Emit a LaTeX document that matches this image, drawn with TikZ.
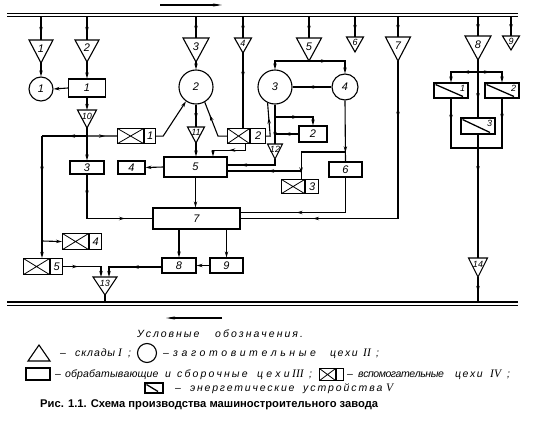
\documentclass[tikz,border=0pt]{standalone}
\usepackage{fontspec}
\setmainfont{Liberation Sans}
\newfontfamily\numfam{Liberation Sans}
\newfontfamily\gostfam{Liberation Sans}
\newfontfamily\romfam{Liberation Serif}
\newfontfamily\capfam{Liberation Sans}
\usetikzlibrary{arrows.meta,decorations.markings,calc}

\newcommand\numf{\numfam\itshape\fontsize{11}{11}\selectfont}
\newcommand\smallnumf{\numfam\itshape\fontsize{9}{9}\selectfont}
\newcommand\lgf{\gostfam\itshape\fontsize{10.5}{10.5}\selectfont}
\newcommand\romf{\romfam\itshape\fontsize{11.5}{11.5}\selectfont}

% spread a word evenly to a given width
\newdimen\fitsp \newcount\fitn \newbox\fitbox
\makeatletter
\newcommand\fitword[2]{%
  \setbox\fitbox\hbox{#2}%
  \fitn=0 \@tfor\fit@c:=#2\do{\advance\fitn by 1 }%
  \fitsp=#1\relax \advance\fitsp by -\wd\fitbox
  \ifnum\fitn>1 \divide\fitsp by \numexpr\fitn-1\relax\fi
  \let\fit@first\relax
  \@tfor\fit@c:=#2\do{\ifx\fit@first\relax\let\fit@first\@empty\else\kern\fitsp\fi\fit@c}%
}
\makeatother

\tikzset{
  ln/.style={line width=1.1pt},
  arr/.style={-{Stealth[length=6pt,width=3.4pt]}},
  ma/.style={postaction={decorate,decoration={markings,mark=at position #1 with {\arrow{Stealth[length=6pt,width=3.4pt]}}}}},
  box/.style={draw,line width=1.1pt,inner sep=0pt,font=\numf},
  circ/.style={draw,circle,line width=1.1pt,inner sep=0pt,font=\numf},
  xcross/.style={draw,line width=1.1pt,inner sep=0pt,path picture={\draw[line width=0.8pt] (path picture bounding box.north west)--(path picture bounding box.south east) (path picture bounding box.south west)--(path picture bounding box.north east);}},
  ebox/.style={draw,line width=1.1pt,inner sep=0pt,path picture={\draw[line width=1.3pt] ($(path picture bounding box.north west)+(1.5,1.5)$) -- ($(path picture bounding box.south east)+(-5,-1.5)$);}},
  lgt/.style={anchor=base west,inner sep=0pt,font=\lgf},
  lgr/.style={anchor=base west,inner sep=0pt,font=\romf},
}

\newcommand\tri[7]{%
  \draw[ln] (#2-#4/2,#3) -- (#2+#4/2,#3) -- (#2,#3+#5) -- cycle;
  \coordinate (#1) at (#2,#3);
  \coordinate (#1tip) at (#2,#3+#5);
  \node[inner sep=0pt,font=#7] (#1lab) at (#2,#3+#5*0.36) {#6};
}
\newcommand\xxbox[7]{%
  \node[xcross,minimum width=#4pt,minimum height=#6pt,anchor=north west] (#1) at (#2,#3) {};
  \node[box,minimum width=#5pt,minimum height=#6pt,anchor=west] (#1n) at (#1.east) {#7};
}
% legend word: name, start x, end x, baseline, word
\newcommand\lw[5]{\node[lgt] (#1) at (#2,#4) {\fitword{\dimexpr#3pt-#2pt\relax}{#5}};}

\begin{document}
\begin{tikzpicture}[x=1pt,y=-1pt]
\useasboundingbox (0,0) rectangle (536,436);

% buses
\coordinate (busT) at (7,16.8);
\coordinate (busB) at (7,302);
\draw[line width=1.4pt] (7,13.5) -- (518,13.5) (busT) -- (518,16.8);
\draw[line width=1.4pt] (busB) -- (518,302) (7,305.3) -- (518,305.3);
\coordinate (ta) at (160,5); \coordinate (tb) at (222,5);
\draw[ln,-{Stealth[length=9pt,width=3pt]}] (ta) -- (tb);
\coordinate (ba) at (222,318); \coordinate (bb) at (166,318);
\draw[ln,-{Stealth[length=9pt,width=3pt]}] (ba) -- (bb);

% triangles (warehouses)
\tri{T1}{41}{40}{24}{23}{1}{\numf}
\tri{T2}{87}{40}{24}{22}{2}{\numf}
\tri{T3}{196}{38}{26}{24}{3}{\numf}
\tri{T4}{243}{38}{17}{15}{4}{\smallnumf}
\tri{T5}{309}{38}{25}{23}{5}{\numf}
\tri{T6}{355}{37}{17}{15}{6}{\smallnumf}
\tri{T7}{398}{37}{25}{24}{7}{\numf}
\tri{T8}{478}{36}{26}{24}{8}{\numf}
\tri{T9}{511}{36}{17}{14}{9}{\smallnumf}
\tri{T10}{87}{110}{19}{18}{10}{\smallnumf}
\tri{T11}{196}{127}{17}{16}{11}{\smallnumf}
\tri{T12}{275}{144}{15}{15}{12}{\smallnumf}
\tri{T13}{105}{277}{24}{18}{13}{\smallnumf}
\tri{T14}{478}{258}{19}{19}{14}{\smallnumf}

% circles
\node[circ,minimum size=24pt] (C1) at (41,89) {1};
\node[circ,minimum size=34pt] (C2) at (196,87) {2};
\node[circ,minimum size=34pt] (C3) at (275,87) {3};
\node[circ,minimum size=26pt] (C4) at (345,87) {4};

% boxes
\node[box,minimum width=37pt,minimum height=18pt] (B1) at (87,88) {1};
\node[box,minimum width=34pt,minimum height=13pt] (B3) at (87,167.5) {3};
\node[box,minimum width=27pt,minimum height=13pt] (B4) at (131.5,167.5) {4};
\node[box,minimum width=63pt,minimum height=20pt] (B5) at (195.5,167) {5};
\node[box,minimum width=28pt,minimum height=16pt] (B2) at (313,134) {2};
\node[box,minimum width=33pt,minimum height=15pt] (B6) at (345.5,169.5) {6};
\node[box,minimum width=87pt,minimum height=21pt] (B7) at (196.5,218.5) {7};
\node[box,minimum width=34pt,minimum height=15pt] (B8) at (179,265.5) {8};
\node[box,minimum width=33pt,minimum height=15pt] (B9) at (226.5,265.5) {9};

% auxiliary shops
\xxbox{X1}{117}{128}{26}{11}{15}{1}
\xxbox{X2}{227}{128}{22}{15}{15}{2}
\xxbox{X3}{281}{179}{23}{13}{14}{3}
\xxbox{X4}{62}{233}{26}{12}{16}{4}
\xxbox{X5}{23}{258}{26}{12}{16}{5}

% energy units
\node[ebox,minimum width=34pt,minimum height=15pt] (E1) at (451,90.5) {};
\node[ebox,minimum width=34pt,minimum height=15pt] (E2) at (502,90.5) {};
\node[ebox,minimum width=34pt,minimum height=16pt] (E3) at (478,126) {};
\node[inner sep=0pt,font=\smallnumf] (E1lab) at ($(E1.north east)+(-6,6)$) {1};
\node[inner sep=0pt,font=\smallnumf] (E2lab) at ($(E2.north east)+(-6,6)$) {2};
\node[inner sep=0pt,font=\smallnumf] (E3lab) at ($(E3.north east)+(-6,6)$) {3};

% feeds from the top bus
\foreach \t in {T1,T2,T3,T4,T5,T6,T7,T8,T9}
  \draw[ln,ma=0.7] (\t |- busT) -- (\t);

% connections
\draw[ln,arr] (T1tip) -- (C1.north);
\draw[ln,arr] (T2tip) -- (B1.north);
\draw[ln,arr] (B1.west) -- (C1.east);
\draw[ln,arr] (B1.south) -- (T10);
\coordinate (j10) at (87,136);
\coordinate (jl) at (42,136);
\coordinate (jl4) at (42,241);
\draw[ln] (T10tip) -- (j10);
\draw[ln,ma=0.4] (j10) -- (jl);
\draw[ln,ma=0.3,arr] (jl) -- (jl |- X5.north);
\draw[ln,arr] (jl4) -- (X4.west);
\draw[ln,ma=0.6] (j10) -- (X1.west);
\draw[ln,arr] (j10) -- (B3.north);
\draw[ln,arr] (X1n.east) -- ++(7,0) -- (C2.235);
\draw[ln,arr] (T3tip) -- (C2.north);
\draw[ln,ma=0.65] (C2.south) -- (T11);
\draw[ln,arr] (T11tip) -- (T11tip |- B5.north);
\draw[ln,ma=0.7] (X2.west) -- ++(-9,0) -- (C2.300);
\draw[ln,ma=0.33] (T4tip) -- (T4tip |- X2.north);
\coordinate (x2s) at ($(X2.south east)+(-5,0)$);
\draw[ln,ma=0.49,arr] (x2s) -- ++(0,6) -| ($(B5.north)+(17.5,0)$);
\draw[ln,arr] (B5.west) -- (B4.east);
\draw[ln,ma=0.6] (X2n.east) -- ++(4,0) -- (C3.245);
\coordinate (j3) at (275,117);
\draw[ln,ma=0.85] (C3.south) -- (T12);
\draw[ln,ma=0.5,arr] (j3) -| (B2.north);
\draw[ln,ma=0.6] (B2.west) -- (B2.west -| j3);
\draw[ln,ma=0.75] (T12tip) |- ($(B5.east)+(0,-2)$);
\draw[ln,arr] (T5tip) -| (C3.north);
\draw[ln,ma=0.37,arr] (T5tip) -| (C4.north);
\draw[ln,ma=0.6] (C4.west) -- (C3.east);
\draw[ln,ma=0.85] (C4.south) -- (B6.north);
\coordinate (j4) at (345,152);
\coordinate (x3in) at ($(X3.north east)+(-4,0)$);
\draw[ln,ma=0.92] (j4) -| (x3in);
\coordinate (j5) at (x3in |- 0,171);
\draw[ln,ma=0.45] (j5) -- (j5 -| B5.east);
\draw[ln,ma=0.6] (B6.south) |- ($(B7.east)+(0,-6)$);
\draw[ln,ma=0.18,ma=0.77] (T7tip) |- (B7.east);
\draw[ln,arr] (B5.south) -- (B5.south |- B7.north);
\draw[ln,ma=0.2,ma=0.75] (B3.south) |- (B7.west);
\draw[ln,arr] (B8.north |- B7.south) -- (B8.north);
\draw[ln,arr] (B9.north |- B7.south) -- (B9.north);
\draw[ln,arr] (B9.west) -- (B8.east);
\draw[ln,ma=0.46,arr] ($(B8.west)+(0,1.5)$) -| ($(T13)+(4,0)$);
\draw[ln,ma=0.31,arr] (X5n.east) -| ($(T13)+(-4,0)$);
\draw[ln] (T13tip) -- (T13tip |- busB);

\coordinate (j8) at (478,72);
\coordinate (jb) at (478,148);
\draw[ln] (T8tip) -- (j8);
\draw[ln,ma=0.4,arr] (j8) -| (E1.north);
\draw[ln,ma=0.35,arr] (j8) -| (E2.north);
\draw[ln,ma=0.6] (j8) -- (E3.north);
\draw[ln,ma=0.29] (E1.south) |- (jb);
\draw[ln,ma=0.29] (E2.south) |- (jb);
\draw[ln] (E3.south) -- (jb);
\draw[ln,ma=0.22] (jb) -- (T14);
\draw[ln,ma=0.6] (T14tip) -- (T14tip |- busB);

% legend
\lw{lg0a}{137}{199}{337}{Условные}
\lw{lg0b}{215}{302}{337}{обозначения.}
% row 2
\coordinate (lt1) at (28,361); \coordinate (lt2) at (50,361); \coordinate (lt3) at (39,345);
\draw[ln] (lt1) -- (lt2) -- (lt3) -- cycle;
\node[lgt] (lg1d) at (60,356.5) {–};
\lw{lg1a}{75}{115}{356.5}{склады}
\node[lgr] (lg1r) at (118,356.5) {I};
\node[lgt] (lg1s) at (128,356.5) {;};
\node[circ,minimum size=19pt] (lgc) at (147,353) {};
\node[lgt] (lg2d) at (163,356.5) {–};
\lw{lg2a}{173}{315}{356.5}{заготовительные}
\lw{lg2b}{330}{357}{356.5}{цехи}
\node[lgr] (lg2r) at (363,356.5) {II};
\node[lgt] (lg2s) at (376,356.5) {;};
% row 3
\node[box,minimum width=24pt,minimum height=12pt] (lgr) at (38,374) {};
\node[lgt] (lg3d) at (55,377.5) {–};
\lw{lg3a}{65}{158}{377.5}{обрабатывающие}
\lw{lg3b}{165}{171}{377.5}{и}
\lw{lg3c}{177}{247}{377.5}{сборочные}
\lw{lg3e}{257}{289}{377.5}{цехи}
\node[lgr] (lg3r) at (292,377.5) {III};
\node[lgt] (lg3s) at (309,377.5) {;};
\node[xcross,minimum width=16pt,minimum height=12pt,anchor=north west] (lgx) at (319,368) {};
\node[box,minimum width=7pt,minimum height=12pt,anchor=west] (lgxn) at (lgx.east) {};
\node[lgt] (lg4d) at (347,377.5) {–};
\lw{lg4a}{358}{443}{377.5}{вспомогательные}
\lw{lg4b}{455}{482}{377.5}{цехи}
\node[lgr] (lg4r) at (490,377.5) {IV};
\node[lgt] (lg4s) at (507,377.5) {;};
% row 4
\node[ebox,minimum width=18pt,minimum height=10pt] (lge) at (154,388) {};
\node[lgt] (lg5d) at (175,391.5) {–};
\lw{lg5a}{190}{294}{391.5}{энергетические}
\lw{lg5b}{303}{382}{391.5}{устройства}
\node[lgr] (lg5r) at (386,391.5) {V};
% caption
\node[anchor=base west,inner sep=0pt,font=\capfam\bfseries\fontsize{11.2}{11.2}\selectfont] (cap) at (40,407.5) {Рис. 1.1. Схема производства машиностроительного завода};
\end{tikzpicture}
\end{document}
